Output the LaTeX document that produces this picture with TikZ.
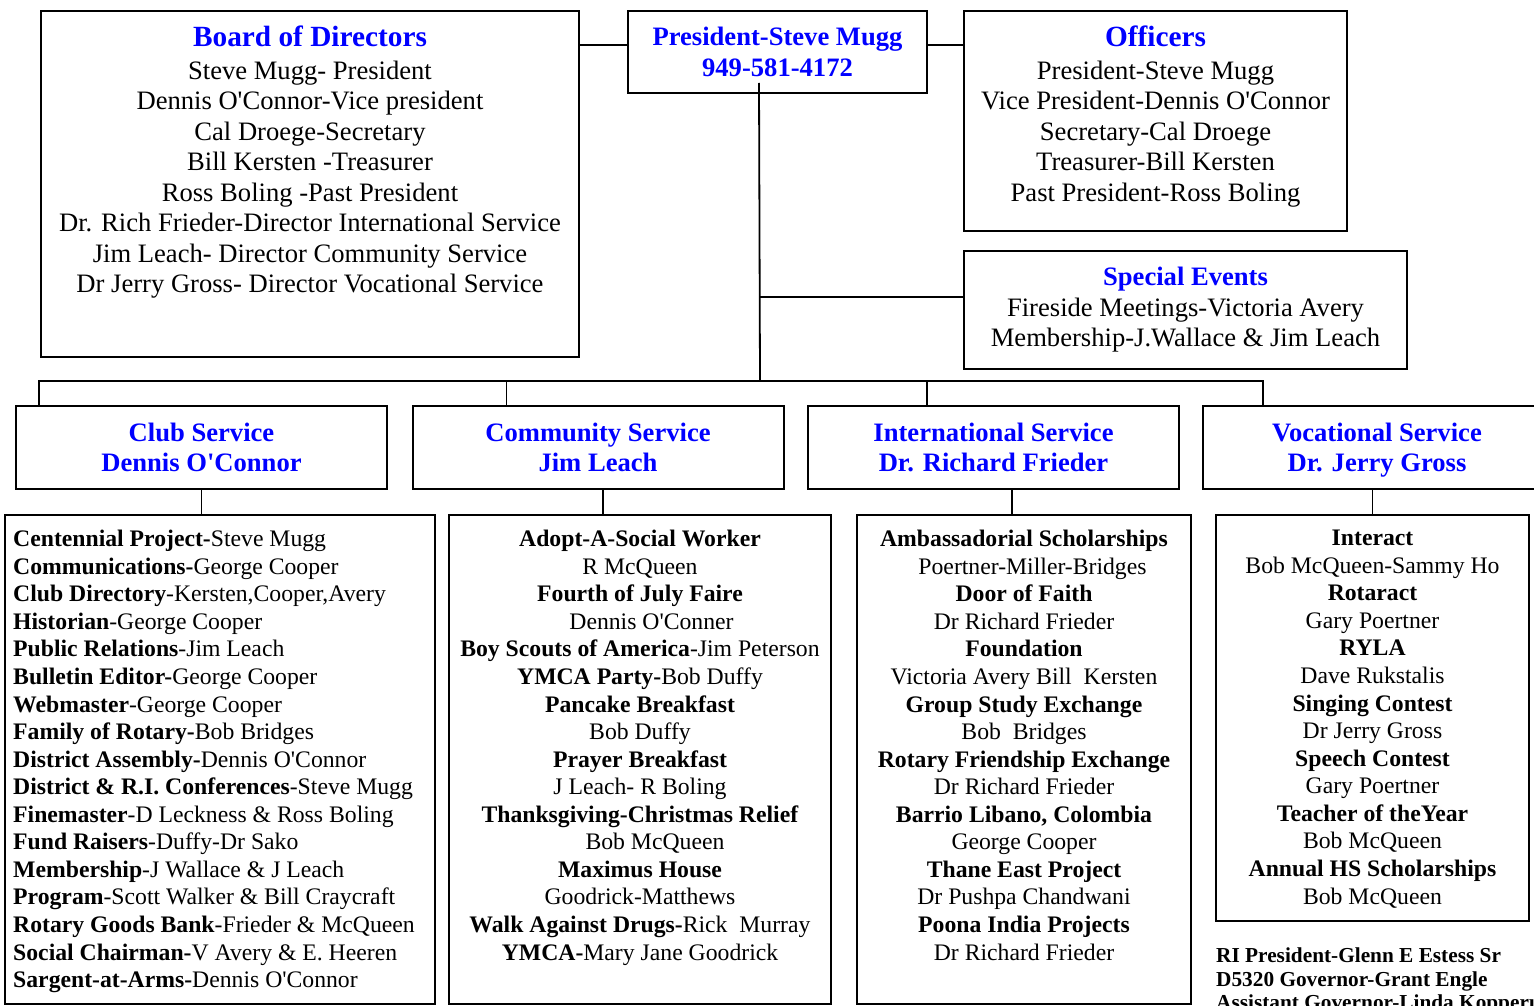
\documentclass[tikz,border=0pt]{standalone}
\usepackage{fontspec}
\setmainfont{Liberation Serif}[Ligatures=TeXOff]
\usetikzlibrary{positioning,calc}
\tikzstyle{orgbox} = [rectangle,
                      draw=black,
                      line width=2pt,
                      inner sep=0pt,
                      align=center,
                      font=\fontsize{26.6}{30.5}\selectfont]
\tikzstyle{unitbox} = [orgbox,
                      minimum width=371pt,
                      minimum height=83pt,
                      text depth=0pt,
                      text=blue,
                      font=\fontsize{26.6}{30.5}\selectfont\bfseries]
\tikzstyle{listbox} = [rectangle,
                      draw=black,
                      line width=2pt,
                      inner sep=0pt]
\tikzstyle{bodytxt} = [inner sep=0pt,
                      align=center,
                      font=\fontsize{26.6}{30.5}\selectfont]
\tikzstyle{listtxt} = [inner sep=0pt,
                      font=\fontsize{23.7}{27.56}\selectfont]
\tikzstyle{wire} = [line width=1.8pt]
\newcommand{\bighead}[1]{{\color{blue}\bfseries\fontsize{29.3}{33}\selectfont #1}\\[2pt]}

\begin{document}
\begin{tikzpicture}[x=1pt,y=-1pt]
\useasboundingbox (0,0) rectangle (1534,1006);
% top row
\node [listbox, minimum width=538pt, minimum height=346pt] (board) at (310,184) {};
\node [bodytxt, below=16pt of board.north] (boardtxt) {\bighead{Board of Directors}
  Steve Mugg- President\\ Dennis O'Connor-Vice president\\ Cal Droege-Secretary\\
  Bill Kersten -Treasurer\\ Ross Boling -Past President\\
  Dr. Rich Frieder-Director International Service\\
  Jim Leach- Director Community Service\\ Dr Jerry Gross- Director Vocational Service};
\node [orgbox, minimum width=299pt, minimum height=82pt, text=blue, font=\fontsize{26.6}{30.5}\selectfont\bfseries]
  (pres) at (777.5,52) {President-Steve Mugg\\949-581-4172};
\node [listbox, minimum width=383pt, minimum height=220pt] (off) at (1155.5,121) {};
\node [bodytxt, below=16pt of off.north] (offtxt) {\bighead{Officers}
  President-Steve Mugg\\ Vice President-Dennis O'Connor\\ Secretary-Cal Droege\\
  Treasurer-Bill Kersten\\ Past President-Ross Boling};
\node [orgbox, minimum width=443pt, minimum height=118pt] (spec) at (1185.5,310)
  {{\color{blue}\bfseries Special Events}\\ Fireside Meetings-Victoria Avery\\ Membership-J.Wallace \& Jim Leach};
% service units
\node [unitbox] (club) at (201.5,447.5) {Club Service\\Dennis O'Connor};
\node [unitbox] (comm) at (598,447.5) {Community Service\\Jim Leach};
\node [unitbox] (intl) at (993.5,447.5) {International Service\\Dr. Richard Frieder};
\node [unitbox, minimum width=348pt] (voc) at (1377,447.5) {Vocational Service\\Dr. Jerry Gross};
% committee lists
\node [listbox, minimum width=430pt, minimum height=489pt] (clubl) at (220,759.5) {};
\node [listbox, minimum width=382pt, minimum height=489pt] (comml) at (640,759.5) {};
\node [listbox, minimum width=334pt, minimum height=489pt] (intll) at (1024,759.5) {};
\node [listbox, minimum width=313pt, minimum height=406pt] (vocl) at (1372.5,718) {};
\node [listtxt, align=left, anchor=north west] (clubtxt) at ([xshift=9pt,yshift=-16pt]clubl.north west) {
  \textbf{Centennial Project-}Steve Mugg\\
  \textbf{Communications-}George Cooper\\
  \textbf{Club Directory}-Kersten,Cooper,Avery\\
  \textbf{Historian}-George Cooper\\
  \textbf{Public Relations}-Jim Leach\\
  \textbf{Bulletin Editor-}George Cooper\\
  \textbf{Webmaster}-George Cooper\\
  \textbf{Family of Rotary-}Bob Bridges\\
  \textbf{District Assembly-}Dennis O'Connor\\
  \textbf{District \& R.I. Conferences}-Steve Mugg\\
  \textbf{Finemaster}-D Leckness \& Ross Boling\\
  \textbf{Fund Raisers}-Duffy-Dr Sako\\
  \textbf{Membership}-J Wallace \& J Leach\\
  \textbf{Program}-Scott Walker \& Bill Craycraft\\
  \textbf{Rotary Goods Bank}-Frieder \& McQueen\\
  \textbf{Social Chairman-}V Avery \& E. Heeren\\
  \textbf{Sargent-at-Arms-}Dennis O'Connor};
\node [listtxt, align=center, anchor=north] (commtxt) at ([yshift=-16pt]comml.north) {
  \textbf{Adopt-A-Social Worker}\\ R McQueen\\
  \textbf{Fourth of July Faire}\\ \hspace*{23pt}Dennis O'Conner\\
  \textbf{Boy Scouts of America}-Jim Peterson\\
  \textbf{YMCA Party-}Bob Duffy\\
  \textbf{Pancake Breakfast}\\ Bob Duffy\\
  \textbf{Prayer Breakfast}\\ J Leach- R Boling\\
  \textbf{Thanksgiving-Christmas Relief}\\ \hspace*{30pt}Bob McQueen\\
  \textbf{Maximus House}\\ Goodrick-Matthews\\
  \textbf{Walk Against Drugs-}Rick~~Murray\\
  \textbf{YMCA-}Mary Jane Goodrick};
\node [listtxt, align=center, anchor=north] (intltxt) at ([yshift=-16pt]intll.north) {
  \textbf{Ambassadorial Scholarships}\\ \hspace*{17pt}Poertner-Miller-Bridges\\
  \textbf{Door of Faith}\\ Dr Richard Frieder\\
  \textbf{Foundation}\\ Victoria Avery Bill~~Kersten\\
  \textbf{Group Study Exchange}\\ Bob~~Bridges\\
  \textbf{Rotary Friendship Exchange}\\ Dr Richard Frieder\\
  \textbf{Barrio Libano, Colombia}\\ George Cooper\\
  \textbf{Thane East Project}\\ Dr Pushpa Chandwani\\
  \textbf{Poona India Projects}\\ Dr Richard Frieder};
\node [listtxt, align=center, anchor=north] (voctxt) at ([yshift=-16pt]vocl.north) {
  \textbf{Interact}\\ Bob McQueen-Sammy Ho\\
  \textbf{Rotaract}\\ Gary Poertner\\
  \textbf{RYLA}\\ Dave Rukstalis\\
  \textbf{Singing Contest}\\ Dr Jerry Gross\\
  \textbf{Speech Contest}\\ Gary Poertner\\
  \textbf{Teacher of theYear}\\ Bob McQueen\\
  \textbf{Annual HS Scholarships}\\ Bob McQueen};
\node [inner sep=0pt, align=left, anchor=north west, font=\fontsize{21.3}{23.5}\selectfont\bfseries]
  (ritxt) at ([xshift=1pt,yshift=-26pt]vocl.south west)
  {RI President-Glenn E Estess Sr\\ D5320 Governor-Grant Engle\\ Assistant Governor-Linda Kopperud};
% connectors
\coordinate (bus) at (760,381);
\coordinate (pw) at ([yshift=7pt]pres.west);
\coordinate (pe) at ([yshift=7pt]pres.east);
\coordinate (sevt) at ([yshift=13pt]spec.west);
\draw [wire] (pw) -- (pw -| board.east);
\draw [wire] (pe) -- (pe -| off.west);
\draw [wire] ([xshift=132pt,yshift=11pt]pres.south west) -- (bus);
\draw [wire] (sevt) -- (sevt -| bus);
\draw [wire] ([xshift=24pt]club.north west) |- (bus) -| ([xshift=61pt]voc.north west);
\coordinate (commdrop) at ([xshift=95pt]comm.north west);
\coordinate (intldrop) at ([xshift=120pt]intl.north west);
\draw [wire] (commdrop) -- (commdrop |- bus);
\draw [wire] (intldrop) -- (intldrop |- bus);
%\draw [wire] (pres.south) -- (bus);
\coordinate (commlink) at ([xshift=5pt]comm.south);
\coordinate (intllink) at ([xshift=18.5pt]intl.south);
\draw [wire] (club.south) -- (club.south |- clubl.north);
\draw [wire] (commlink) -- (commlink |- comml.north);
\draw [wire] (intllink) -- (intllink |- intll.north);
\draw [wire] (vocl.north) -- (vocl.north |- voc.south);
\end{tikzpicture}
\end{document}
